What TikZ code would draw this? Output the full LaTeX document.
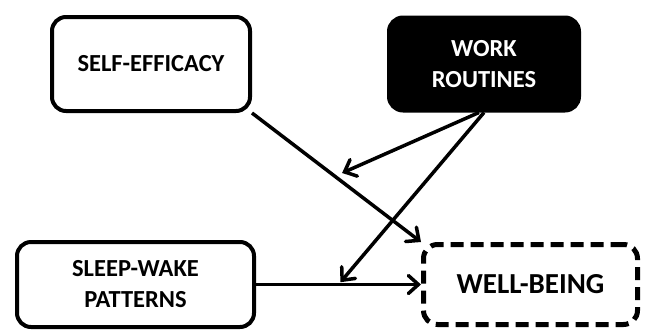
\documentclass[tikz,border=0pt]{standalone}
\usepackage{fontspec}
\setmainfont{Carlito}
\usetikzlibrary{arrows.meta,positioning}

\begin{document}
\begin{tikzpicture}[
  font=\bfseries\fontsize{24.5}{31}\selectfont,
  box/.style={draw, line width=4pt, rounded corners=14pt, align=center, inner sep=0pt},
  dark/.style={box, fill=black, text=white},
  outcome/.style={box, line width=5pt, dash pattern=on 13pt off 7pt, font=\bfseries\fontsize{29}{35}\selectfont},
  flow/.style={-{Straight Barb[length=10pt, width=18pt, line cap=round]}, line width=3.5pt}
]
  \useasboundingbox (0,0) rectangle (647pt,-333pt);

  \node[box, minimum width=198pt, minimum height=94pt] (efficacy) at (151pt,-64pt) {SELF-EFFICACY};
  \node[dark, minimum width=190pt, minimum height=93pt, right=135pt of efficacy] (routines) {WORK\\ROUTINES};
  \node[box, minimum width=237pt, minimum height=85pt, below=127pt of efficacy, xshift=-15.5pt] (sleep) {SLEEP-WAKE\\PATTERNS};
  \node[outcome, minimum width=214pt, minimum height=80pt, right=165pt of sleep] (wellbeing) {WELL-BEING};

  \draw[flow] (efficacy.south east) -- coordinate[pos=.49] (midtop) (wellbeing.north west);
  \draw[flow] (sleep) -- coordinate[pos=.5] (midlow) (wellbeing);
  \draw[flow, shorten >=8pt] ([xshift=-5pt]routines.south) -- (midtop);
  \draw[flow, shorten >=3pt] (routines.south) -- (midlow);
\end{tikzpicture}
\end{document}
